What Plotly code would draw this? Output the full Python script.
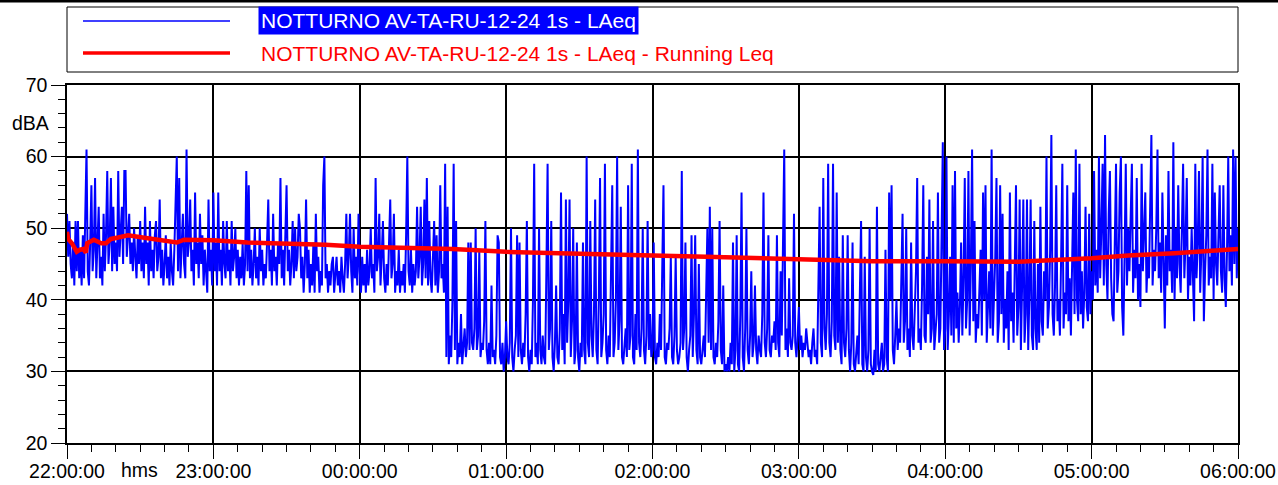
import pandas as pd
import plotly.graph_objects as go

# ---------------- data (LAeq, one value every 30 s) ----------------
laeq_22 = [52,46,51,45,43,48,42,51,44,51,43,47,42,49,43,50,61,44,42,48,
           56,44,47,57,43,48,53,43,46,42,52,44,49,58,45,48,57,44,53,45,
           48,44,58,46,49,53,45,58,58,46,49,52,45,48,44,50,46,43,49,45,
           51,44,48,43,53,45,48,42,51,44,47,43,49,51,44,46,54,43,47,42,
           45,49,43,46,42,48,44,42,47,52,60,44,57,43,47,52,45,43,61,46,
           48,54,44,47,42,55,45,48,43,52,45,49,42,47,44,41,54,44,47,42]
laeq_23 = [55,44,48,42,55,44,47,42,51,45,43,51,44,47,42,51,44,46,50,43,
           47,42,46,43,48,42,45,58,44,56,43,47,42,45,50,43,46,42,50,44,
           47,42,45,43,48,54,44,47,42,52,44,46,42,48,45,57,43,47,42,49,
           56,44,47,42,45,51,43,50,44,46,52,50,43,46,41,45,54,43,47,41,
           45,42,48,41,52,44,46,41,44,42,56,60,43,45,41,44,42,45,46,41,
           44,46,42,44,41,46,43,41,45,52,43,46,52,44,41,50,43,46,42,52]
laeq_00 = [44,41,46,42,45,41,47,42,44,50,43,45,41,57,44,46,52,42,46,51,
           43,41,45,42,48,54,43,45,52,41,44,42,47,41,44,42,45,41,49,60,
           44,42,47,41,45,42,44,53,43,46,53,42,45,54,43,57,42,51,43,41,
           46,51,42,49,41,44,56,43,45,41,59,32,53,31,35,32,40,59,33,51,
           31,34,32,38,31,33,36,32,34,48,33,48,34,33,36,50,33,35,47,32,
           34,33,37,51,33,31,34,31,42,32,33,31,35,49,48,32,31,34,30,32]
laeq_01 = [37,32,31,34,50,32,30,33,35,49,32,48,33,31,34,32,38,51,32,30,
           33,31,40,59,32,34,31,50,33,31,35,32,31,44,59,33,36,51,32,30,
           34,42,32,31,36,55,33,38,31,54,34,40,54,32,37,50,31,33,48,32,
           30,34,32,48,33,31,60,34,32,51,35,32,38,54,33,31,40,57,32,34,
           38,59,33,31,35,32,44,56,32,34,40,60,33,37,53,32,31,34,36,32,
           56,33,35,59,32,31,38,33,61,34,32,36,50,33,31,35,51,33,38,32]
laeq_02 = [33,48,32,31,34,32,38,33,44,56,32,31,34,33,36,46,32,31,35,46,
           33,31,32,34,58,33,36,48,32,30,33,35,49,32,38,49,33,31,45,32,
           31,33,35,32,41,50,34,53,33,50,32,31,34,32,37,51,33,31,42,30,
           31,30,32,30,34,31,48,30,33,49,31,30,38,55,32,30,36,50,33,31,
           35,44,32,34,42,33,31,35,33,32,38,55,34,32,36,49,33,32,35,34,
           37,33,49,34,32,44,35,47,61,33,36,32,43,34,33,35,52,34,32,35]
laeq_03 = [39,33,35,32,34,33,36,34,32,33,31,34,36,32,33,31,40,53,34,32,
           57,36,33,38,59,34,32,37,59,35,33,55,34,46,33,31,49,34,32,36,
           49,33,30,34,48,31,30,33,35,31,40,51,31,30,46,32,30,33,50,31,
           30,29.5,33,30,53,31,30,32,34,30,31,47,32,30,55,40,56,33,31,35,
           40,33,36,34,45,52,34,37,50,33,36,32,48,35,33,38,44,57,34,36,
           33,42,56,35,34,46,38,54,34,36,51,33,35,38,55,34,36,46,62,33]
laeq_04 = [36,60,33,38,46,35,56,34,58,36,41,34,39,48,35,43,57,36,40,58,
           35,45,61,37,51,34,38,36,42,47,35,55,40,56,34,38,44,36,61,35,
           40,46,57,34,37,56,38,52,34,40,36,44,33,55,37,41,34,47,56,35,
           39,54,33,42,54,34,38,54,33,41,54,35,33,51,36,33,45,34,53,37,
           35,44,40,60,36,39,47,63,38,35,42,56,37,40,35,46,59,36,41,38,
           56,37,43,35,48,55,38,61,40,37,59,38,44,36,41,53,39,37,52,38]
laeq_05 = [44,40,58,42,47,41,60,43,50,59,42,63,45,40,52,58,43,38,37,48,
           59,41,44,55,60,39,35,46,59,42,50,44,53,59,41,47,43,57,40,45,
           39,59,44,49,55,41,46,43,52,63,42,47,44,50,61,43,48,41,55,45,
           36,49,42,58,44,47,41,62,40,50,43,56,45,41,52,59,43,48,57,40,
           46,42,50,44,37,59,43,48,58,41,47,60,37,44,49,61,42,46,43,59,
           40,55,45,42,48,56,44,41,56,43,39,47,60,44,49,42,61,45,60,43]
laeq_end = [50]

# Running Leq (read at selected times)
leq_times = ["22:00:00", "22:00:30", "22:02:00", "22:04:00", "22:05:20", "22:06:40",
             "22:07:45", "22:08:15", "22:11:00", "22:14:00", "22:16:00", "22:18:00",
             "22:21:00", "22:25:00", "22:31:00", "22:38:00", "22:45:00", "22:48:00",
             "23:00:00", "23:14:00", "23:33:00", "23:46:00", "00:00:00", "00:19:00",
             "00:38:00", "01:00:00", "01:28:00", "02:00:00", "02:22:00", "03:00:00",
             "03:30:00", "04:00:00", "04:30:00", "05:00:00", "05:15:00", "05:34:00",
             "06:00:00"]
leq_values = [49.5, 48.5, 47.9, 46.7, 47.0, 47.1,
              46.6, 47.9, 48.4, 47.9, 47.9, 48.5,
              48.7, 49.0, 48.7, 48.4, 48.0, 48.4,
              48.3, 48.0, 47.9, 47.7, 47.4, 47.2,
              47.1, 46.7, 46.4, 46.2, 46.0, 45.7,
              45.4, 45.4, 45.3, 45.8, 46.2, 46.5,
              47.1]

y_ticks = [20, 30, 40, 50, 60, 70]
label_blue = "NOTTURNO AV-TA-RU-12-24 1s - LAeq"
label_red = "NOTTURNO AV-TA-RU-12-24 1s - LAeq - Running Leq"

# ---------------- build figure ----------------
laeq = laeq_22 + laeq_23 + laeq_00 + laeq_01 + laeq_02 + laeq_03 + laeq_04 + laeq_05 + laeq_end
t = pd.date_range("2024-12-12 22:00:00", periods=len(laeq), freq="30s")


def to_dt(s):
    day = "2024-12-12" if int(s[:2]) >= 22 else "2024-12-13"
    return pd.Timestamp(f"{day} {s}")


leq_t = [to_dt(s) for s in leq_times]

W, H = 1278, 485
L, R, T, B = 67, 1238, 85, 443
FONT = "Liberation Sans, Arial, sans-serif"
FS = 21      # legend text
FT = 19.5    # tick labels


def px(x):
    return (x - L) / (R - L)


def py(y):
    return (B - y) / (B - T)


fig = go.Figure()
fig.add_trace(go.Scatter(x=t, y=laeq, mode="lines", line=dict(color="#0000FF", width=2),
                         showlegend=False, name=label_blue))
fig.add_trace(go.Scatter(x=leq_t, y=leq_values, mode="lines", line=dict(color="#FF0000", width=4.5),
                         showlegend=False, name=label_red))

fig.update_layout(
    width=W, height=H,
    margin=dict(l=L, r=W - R, t=T, b=H - B, pad=0, autoexpand=False),
    paper_bgcolor="white", plot_bgcolor="white",
    font=dict(family=FONT, size=FT, color="black"),
    showlegend=False,
)

fig.update_xaxes(
    type="date", automargin=False,
    range=[pd.Timestamp("2024-12-12 22:00:00"), pd.Timestamp("2024-12-13 06:00:00")],
    tickformat="%H:%M:%S", dtick=3600000, tick0="2024-12-12 22:00:00",
    ticks="outside", ticklen=14, tickwidth=1, tickcolor="black",
    ticklabeloverflow="allow", ticklabelstandoff=-4,
    showgrid=True, gridcolor="black", gridwidth=1.5,
    showline=True, linecolor="black", linewidth=1.5, mirror=True,
    minor=dict(ticks="outside", ticklen=7, tickcolor="black", dtick=600000, showgrid=False),
    tickfont=dict(family=FONT, size=FT, color="black"),
    zeroline=False,
)
fig.update_yaxes(
    range=[20, 70], tickvals=y_ticks, automargin=False,
    ticks="outside", ticklen=14, tickwidth=1, tickcolor="black",
    ticklabeloverflow="allow",
    showgrid=True, gridcolor="black", gridwidth=1.5,
    showline=True, linecolor="black", linewidth=1.5, mirror=True,
    minor=dict(ticks="outside", ticklen=7, tickcolor="black", dtick=2, showgrid=False),
    tickfont=dict(family=FONT, size=FT, color="black"),
    zeroline=False,
)

shapes = [
    # top page border
    dict(type="line", xref="paper", yref="paper", x0=px(0), x1=px(W), y0=py(1), y1=py(1),
         line=dict(color="black", width=3)),
    # legend box
    dict(type="rect", xref="paper", yref="paper", x0=px(67), x1=px(1238), y0=py(72), y1=py(7),
         line=dict(color="black", width=1), fillcolor="white"),
    # legend samples
    dict(type="line", xref="paper", yref="paper", x0=px(83), x1=px(230), y0=py(21), y1=py(21),
         line=dict(color="#0000FF", width=1.5)),
    dict(type="line", xref="paper", yref="paper", x0=px(83), x1=px(230), y0=py(53), y1=py(53),
         line=dict(color="#FF0000", width=3.5)),
]
fig.update_layout(shapes=shapes)

annotations = [
    dict(text=label_blue, xref="paper", yref="paper", x=px(258), y=py(21), xanchor="left",
         yanchor="middle", showarrow=False, bgcolor="#0000FF", borderpad=2,
         font=dict(family=FONT, size=FS, color="white")),
    dict(text=label_red, xref="paper", yref="paper", x=px(259), y=py(53), xanchor="left",
         yanchor="middle", showarrow=False,
         font=dict(family=FONT, size=FS, color="#FF0000")),
    dict(text="dBA", xref="paper", yref="paper", x=px(30), y=py(123), xanchor="center",
         yanchor="middle", showarrow=False, font=dict(family=FONT, size=FT, color="black")),
    dict(text="hms", xref="paper", yref="paper", x=px(139), y=py(470), xanchor="center",
         yanchor="middle", showarrow=False, font=dict(family=FONT, size=FT, color="black")),
]
fig.update_layout(annotations=annotations)

fig.write_html("out.html", config={"displayModeBar": False},
               post_script="document.body.style.margin='0px';document.body.style.padding='0px';")
